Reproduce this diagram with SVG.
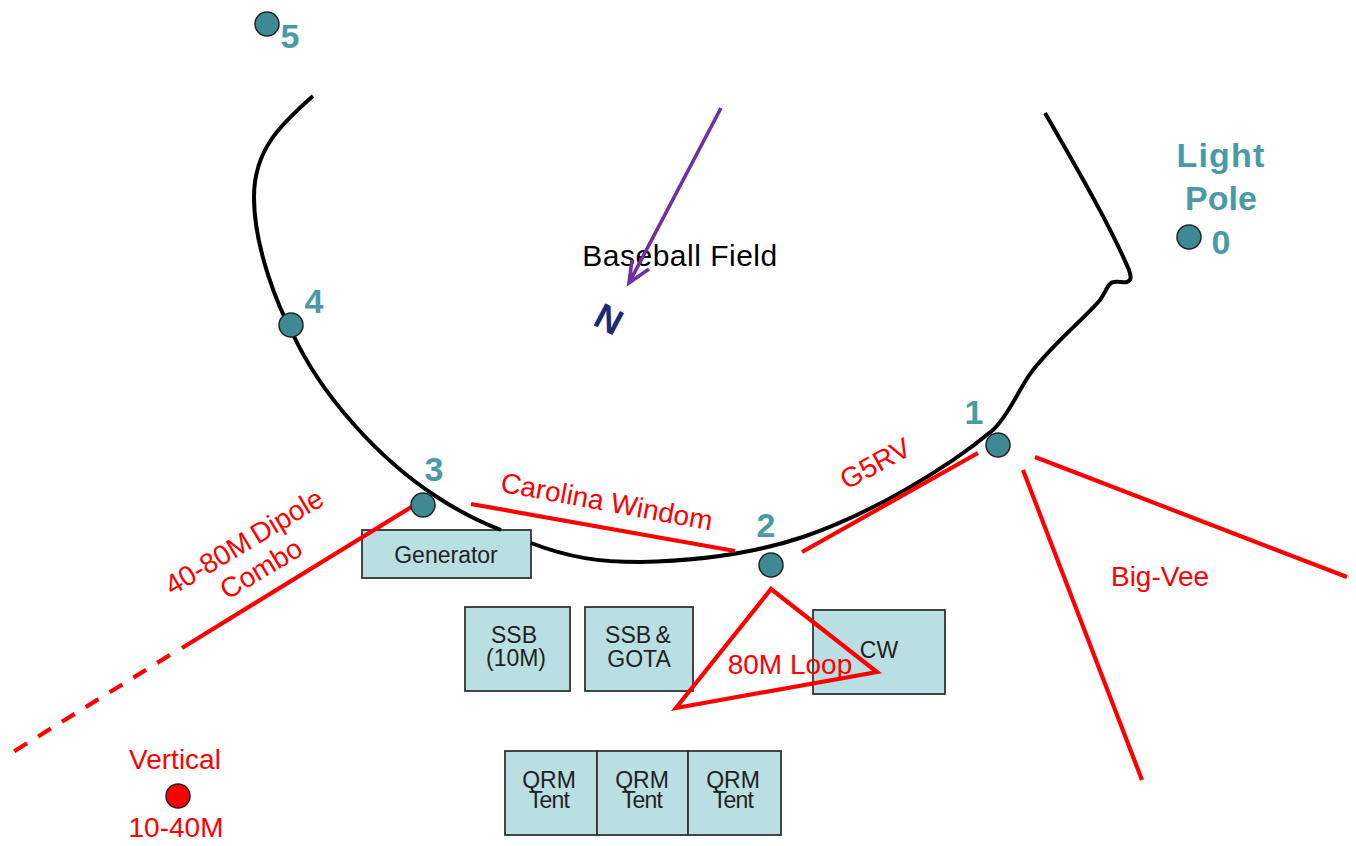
<svg xmlns="http://www.w3.org/2000/svg" width="1356" height="846" viewBox="0 0 1356 846">
<style>
text{font-family:"Liberation Sans",Arial,sans-serif}
.box{fill:#b9dfe3;stroke:#333;stroke-width:1.8}
.bt{font-size:23px;fill:#222;text-anchor:middle}
.red{font-size:28px;fill:#ff0000;text-anchor:middle}
.teal{font-size:34px;font-weight:bold;fill:#4a9aa5;text-anchor:middle}
.dot{fill:#3e8a94;stroke:#222;stroke-width:1.5}
.ant{fill:none;stroke:#ff0000;stroke-width:4.2}
</style>
<rect width="1356" height="846" fill="#fff"/>
<g id="node-generator"><rect class="box" x="362" y="530" width="169" height="48"/><text class="bt" x="446" y="563">Generator</text></g>
<g id="node-ssb10"><rect class="box" x="465" y="607" width="105" height="84"/><text class="bt"><tspan x="514" y="643">SSB</tspan><tspan x="516" y="666">(10M)</tspan></text></g>
<g id="node-ssbgota"><rect class="box" x="585" y="607" width="108" height="84"/><text class="bt"><tspan x="638" y="643" word-spacing="-2">SSB &amp;</tspan><tspan x="639" y="667">GOTA</tspan></text></g>
<g id="node-cw"><rect class="box" x="813" y="610" width="132" height="84"/><text class="bt" x="879" y="658">CW</text></g>
<g id="node-qrm1"><rect class="box" x="505" y="751" width="92" height="84"/><text class="bt"><tspan x="549" y="788">QRM</tspan><tspan x="549" y="808" letter-spacing="-.8">Tent</tspan></text></g>
<g id="node-qrm2"><rect class="box" x="597" y="751" width="91" height="84"/><text class="bt"><tspan x="642" y="788">QRM</tspan><tspan x="642" y="808" letter-spacing="-.8">Tent</tspan></text></g>
<g id="node-qrm3"><rect class="box" x="688" y="751" width="93" height="84"/><text class="bt"><tspan x="733" y="788">QRM</tspan><tspan x="733" y="808" letter-spacing="-.8">Tent</tspan></text></g>
<text id="field-label" x="680" y="266" font-size="30" letter-spacing=".5" fill="#000" text-anchor="middle">Baseball Field</text>
<g id="connectors">
<path id="field-edge" fill="none" stroke="#000" stroke-width="4" d="M313 96C280 125 254 150 254 197C254 250 280 310 291 330C320 395 380 460 437 497C460 512 480 522 501 530M531 543C570 558 600 562 640 562C700 561 755 553 803 537C870 514 945 470 993 430C1010 414 1020 386 1033 370C1055 342 1085 318 1100 300C1106 292 1108 282 1114 282C1118 281 1124 283 1127 282C1132 280 1131 276 1129 270C1110 225 1075 165 1045 113"/>
<path id="north-arrow" fill="none" stroke="#7030a0" stroke-width="3.6" d="M721 108L629 283M632 260L629 283L649 269"/>
<path id="dipole" class="ant" d="M413 506L182 648"/>
<path id="dipole-dash" class="ant" stroke-dasharray="15 13" d="M170 655L13 752"/>
<path id="windom" class="ant" d="M471 504L735 551"/>
<path id="g5rv" class="ant" d="M802 552L978 453"/>
<path id="big-vee" class="ant" d="M1035 457L1347 577M1023 470L1142 780"/>
<path id="loop" class="ant" d="M771 589L877 672L676 708Z"/>
</g>
<text id="loop-label" class="red" x="790" y="674">80M Loop</text>
<g id="node-0"><circle class="dot" cx="1189" cy="237" r="12"/><text class="teal" x="1221" y="167" letter-spacing="1.2">Light</text><text class="teal" x="1221" y="210">Pole</text><text class="teal" x="1221" y="254">0</text></g>
<g id="node-1"><circle class="dot" cx="998" cy="445" r="12"/><text class="teal" x="974" y="424">1</text></g>
<g id="node-2"><circle class="dot" cx="771" cy="565" r="12"/><text class="teal" x="766" y="537">2</text></g>
<g id="node-3"><circle class="dot" cx="423" cy="505" r="12"/><text class="teal" x="434" y="481">3</text></g>
<g id="node-4"><circle class="dot" cx="291" cy="325" r="12"/><text class="teal" x="314" y="313">4</text></g>
<g id="node-5"><circle class="dot" cx="267" cy="24" r="12"/><text class="teal" x="290" y="48">5</text></g>
<g id="node-vertical"><circle cx="178" cy="796" r="12" fill="#ff0000" stroke="#222" stroke-width="1.5"/><text class="red" x="175" y="769">Vertical</text><text class="red" x="176" y="837">10-40M</text></g>
<g id="labels">
<text font-size="36" font-weight="bold" fill="#1f2a70" text-anchor="middle" transform="translate(603 330) rotate(28)">N</text>
<text class="red" transform="translate(605 511) rotate(10.5)">Carolina Windom</text>
<text class="red" transform="translate(880 472) rotate(-29)">G5RV</text>
<text class="red" x="1160" y="586">Big-Vee</text>
<text class="red" word-spacing="-3" transform="translate(249 550) rotate(-31)">40-80M Dipole</text>
<text class="red" transform="translate(266 577) rotate(-31)">Combo</text>
</g>
</svg>
